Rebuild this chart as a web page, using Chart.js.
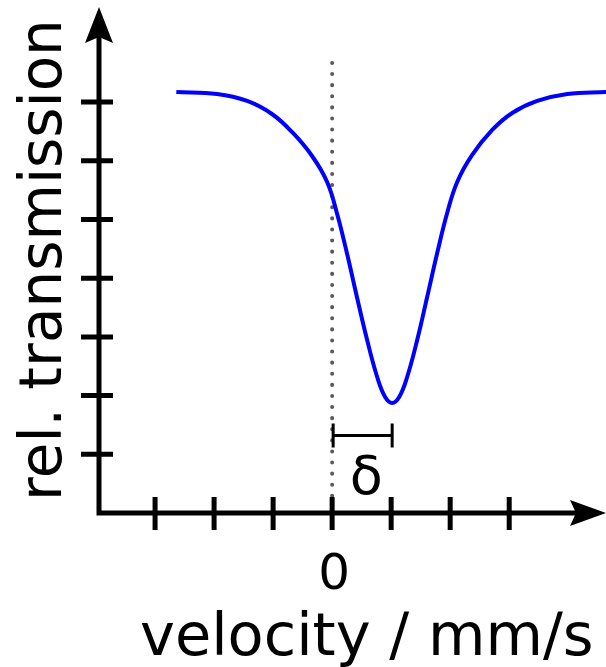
<!DOCTYPE html>
<html>
<head>
<meta charset="utf-8">
<style>
  html, body { margin: 0; padding: 0; background: #fff; }
  #wrap { width: 606px; height: 667px; }
</style>
<script src="https://cdn.jsdelivr.net/npm/chart.js@4"></script>
</head>
<body>
<div id="wrap"><canvas id="myChart" width="606" height="667"></canvas></div>
<script>
// velocity in tick units (0 = source at rest), transmission in tick units
const velocity = [-2.64, -1.95, -1.44, -1.02, -0.68, -0.34, -0.085, 0.085, 0.254, 0.424, 0.593, 0.763, 0.898,
  1.017, 1.136, 1.271, 1.441, 1.61, 1.78, 1.949, 2.119, 2.373, 2.712, 3.051, 3.475, 3.983, 4.644];
const transmission = [7.172, 7.138, 7.019, 6.797, 6.491, 6.082, 5.639, 5.094, 4.412, 3.663, 2.947, 2.317, 1.976,
  1.874, 1.976, 2.317, 2.947, 3.68, 4.429, 5.111, 5.639, 6.099, 6.525, 6.814, 7.019, 7.138, 7.172];
const xTicks = [-3, -2, -1, 0, 1, 2, 3];
const yTicks = [1, 2, 3, 4, 5, 6, 7];
const xTickLabels = { 0: "0" };
const isomerShift = 1.017;   // delta, centre of the dip
const shiftBarY = 1.32;

const FONT = '"DejaVu Sans", Verdana, sans-serif';

// hand drawn axes with arrows, ticks, dotted zero line and the delta bracket
const schemePlugin = {
  id: "scheme",
  beforeDatasetsDraw(chart) {
    const { ctx, scales: { x, y } } = chart;
    const x0 = x.getPixelForValue(0);
    ctx.save();
    ctx.strokeStyle = "#5a5a5a";
    ctx.lineWidth = 4;
    ctx.lineCap = "round";
    ctx.setLineDash([0.1, 11]);
    ctx.beginPath();
    ctx.moveTo(x0, y.getPixelForValue(0) - 6);
    ctx.lineTo(x0, y.getPixelForValue(7.85));
    ctx.stroke();
    ctx.restore();
  },
  afterDraw(chart) {
    const { ctx, scales: { x, y } } = chart;
    const ax = x.getPixelForValue(x.min);
    const ay = y.getPixelForValue(0);
    const top = y.getPixelForValue(y.max);
    const right = x.getPixelForValue(x.max);
    ctx.save();
    ctx.strokeStyle = "#000";
    ctx.fillStyle = "#000";
    ctx.lineWidth = 5;
    ctx.lineCap = "butt";

    // axis lines
    ctx.beginPath();
    ctx.moveTo(ax, top + 30);
    ctx.lineTo(ax, ay);
    ctx.lineTo(right - 30, ay);
    ctx.stroke();

    // arrow heads
    ctx.beginPath();
    ctx.moveTo(ax, top);
    ctx.lineTo(ax + 14, top + 36);
    ctx.lineTo(ax, top + 30);
    ctx.lineTo(ax - 14, top + 36);
    ctx.closePath();
    ctx.fill();
    ctx.beginPath();
    ctx.moveTo(right, ay);
    ctx.lineTo(right - 36, ay - 13);
    ctx.lineTo(right - 30, ay);
    ctx.lineTo(right - 36, ay + 13);
    ctx.closePath();
    ctx.fill();

    // ticks
    ctx.beginPath();
    yTicks.forEach(v => {
      const py = y.getPixelForValue(v);
      ctx.moveTo(ax - 18, py);
      ctx.lineTo(ax + 14, py);
    });
    xTicks.forEach(v => {
      const px = x.getPixelForValue(v);
      ctx.moveTo(px, ay - 16);
      ctx.lineTo(px, ay + 17);
    });
    ctx.stroke();

    // delta bracket
    const bx0 = x.getPixelForValue(0);
    const bx1 = x.getPixelForValue(isomerShift);
    const by = y.getPixelForValue(shiftBarY);
    ctx.lineWidth = 3;
    ctx.beginPath();
    ctx.moveTo(bx0, by);
    ctx.lineTo(bx1, by);
    ctx.moveTo(bx0 + 1, by - 12);
    ctx.lineTo(bx0 + 1, by + 12);
    ctx.moveTo(bx1, by - 12);
    ctx.lineTo(bx1, by + 12);
    ctx.stroke();

    // texts
    ctx.textBaseline = "alphabetic";
    ctx.textAlign = "center";
    ctx.font = "54px " + FONT;
    ctx.fillText("\u03b4", (bx0 + bx1) / 2 + 4, 494);

    ctx.font = "50px " + FONT;
    Object.keys(xTickLabels).forEach(k => {
      ctx.fillText(xTickLabels[k], x.getPixelForValue(Number(k)) + 2, 589);
    });

    ctx.textAlign = "left";
    ctx.font = "59px " + FONT;
    ctx.fillText("velocity / mm/s", 140, 655);

    ctx.translate(61, 260);
    ctx.rotate(-Math.PI / 2);
    ctx.textAlign = "center";
    ctx.font = "58px " + FONT;
    ctx.fillText("rel. transmission", 0, 0);
    ctx.restore();
  }
};

new Chart(document.getElementById("myChart").getContext("2d"), {
  type: "line",
  data: {
    labels: velocity,
    datasets: [
      {
        label: "transmission",
        data: velocity.map((v, i) => ({ x: v, y: transmission[i] })),
        fill: false,
        borderColor: "#0000ff",
        borderWidth: 4,
        pointRadius: 0,
        tension: 0.4,
        clip: false
      }
    ]
  },
  options: {
    responsive: false,
    animation: false,
    events: [],
    layout: {
      padding: { top: 7, left: 99, right: 0, bottom: 154 }
    },
    plugins: { legend: { display: false }, tooltip: { enabled: false } },
    scales: {
      x: { type: "linear", min: -3.95, max: 4.64, display: false },
      y: { type: "linear", min: 0, max: 8.62, display: false }
    }
  },
  plugins: [schemePlugin]
});
</script>
</body>
</html>
